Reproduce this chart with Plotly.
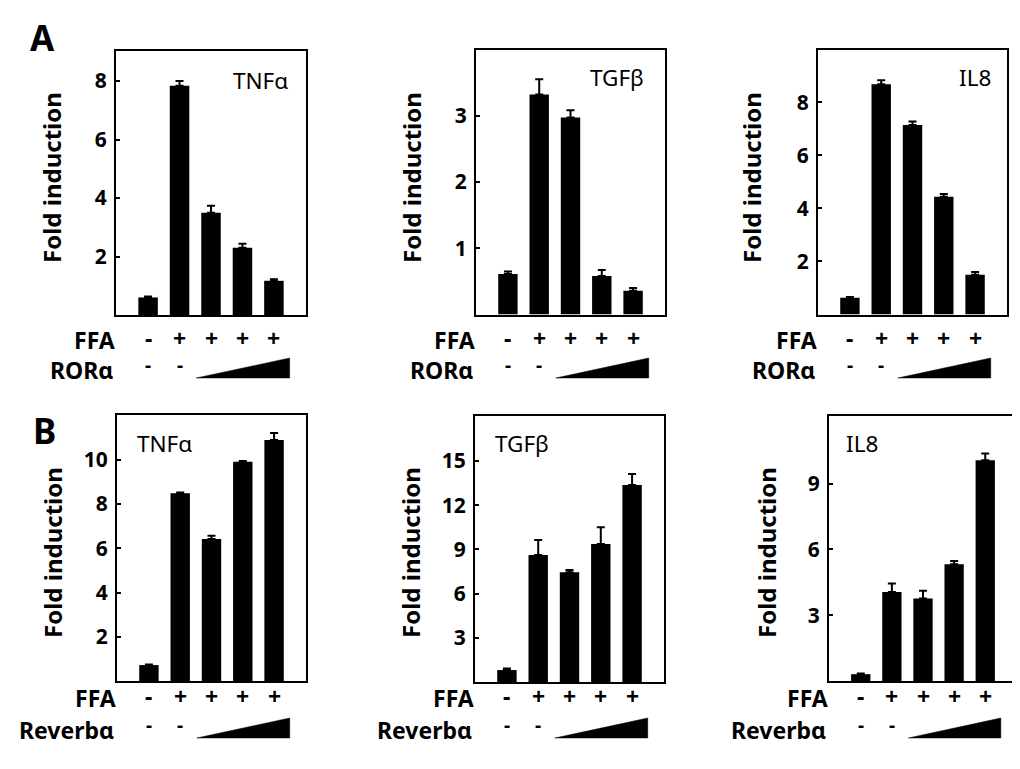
import plotly.graph_objects as go

# ---------------- data ----------------
categories = [0, 1, 2, 3, 4]
ffa_signs = ["-", "+", "+", "+", "+"]
dose_minus = ["-", "-"]          # first two lanes of the dose row

a_tnf = [0.60, 7.84, 3.50, 2.30, 1.17]
a_tnf_err = [0.03, 0.16, 0.24, 0.14, 0.05]
a_tgf = [0.61, 3.32, 2.97, 0.58, 0.36]
a_tgf_err = [0.04, 0.23, 0.11, 0.09, 0.04]
a_il8 = [0.63, 8.69, 7.15, 4.44, 1.50]
a_il8_err = [0.03, 0.15, 0.13, 0.11, 0.10]

b_tnf = [0.72, 8.49, 6.42, 9.92, 10.90]
b_tnf_err = [0.03, 0.04, 0.15, 0.03, 0.32]
b_tgf = [0.81, 8.61, 7.44, 9.36, 13.37]
b_tgf_err = [0.11, 1.02, 0.16, 1.14, 0.74]
b_il8 = [0.31, 4.06, 3.76, 5.32, 10.06]
b_il8_err = [0.03, 0.38, 0.35, 0.15, 0.31]

ticks_a_tnf = [2, 4, 6, 8]
ticks_a_tgf = [1, 2, 3]
ticks_a_il8 = [2, 4, 6, 8]
ticks_b_tnf = [2, 4, 6, 8, 10]
ticks_b_tgf = [3, 6, 9, 12, 15]
ticks_b_il8 = [3, 6, 9]

# ---------------- layout helpers ----------------
OFF = 8                      # page body margin
W, H = 1020 - OFF, 769 - OFF
FONT = "Noto Sans"


def px(x):
    return (x - OFF) / W


def py(y):
    return 1 - (y - OFF) / H


panels = [
    dict(gene="TNFα", v=a_tnf, e=a_tnf_err, t=ticks_a_tnf, ymax=9.03,
         frame=(116, 51, 306, 315), lab=(260, 80), ytit=(52, 178),
         dose="RORα", rows=(340, 370), wedge=(358, 378)),
    dict(gene="TGFβ", v=a_tgf, e=a_tgf_err, t=ticks_a_tgf, ymax=3.99,
         frame=(476, 50, 665, 314.5), lab=(617, 77), ytit=(412, 178),
         dose="RORα", rows=(340, 370), wedge=(358, 378)),
    dict(gene="IL8", v=a_il8, e=a_il8_err, t=ticks_a_il8, ymax=9.98,
         frame=(818, 50, 1007, 314.5), lab=(975, 77), ytit=(752, 178),
         dose="RORα", rows=(340, 370), wedge=(358, 378)),
    dict(gene="TNFα", v=b_tnf, e=b_tnf_err, t=ticks_b_tnf, ymax=12.03,
         frame=(117, 415, 306, 681), lab=(164, 443), ytit=(52, 553),
         dose="Reverbα", rows=(698, 730), wedge=(718, 738)),
    dict(gene="TGFβ", v=b_tgf, e=b_tgf_err, t=ticks_b_tgf, ymax=18.05,
         frame=(475, 416, 664, 682), lab=(522, 443), ytit=(410, 553),
         dose="Reverbα", rows=(698, 730), wedge=(718, 738)),
    dict(gene="IL8", v=b_il8, e=b_il8_err, t=ticks_b_il8, ymax=12.08,
         frame=(829, 416, 1017, 681), lab=(862, 443), ytit=(766, 553),
         dose="Reverbα", rows=(698, 730), wedge=(718, 738)),
]

fig = go.Figure()
annotations = []
shapes = []
layout = dict(
    width=W, height=H,
    margin=dict(l=0, r=0, t=0, b=0),
    paper_bgcolor="white", plot_bgcolor="white",
    showlegend=False,
)

for i, p in enumerate(panels):
    n = "" if i == 0 else str(i + 1)
    xa, ya = "x" + n, "y" + n
    l, t, r, b = p["frame"]
    fig.add_trace(go.Bar(
        x=categories, y=p["v"], xaxis=xa, yaxis=ya, width=0.62,
        marker=dict(color="black", line=dict(width=0)),
        error_y=dict(type="data", symmetric=False, array=p["e"],
                     arrayminus=[0] * len(p["e"]), color="black",
                     thickness=2, width=4),
    ))
    layout["xaxis" + n] = dict(
        domain=[px(l), px(r)], anchor=ya, range=[-1.02, 5.02],
        showline=True, mirror=True, linecolor="black", linewidth=2,
        showticklabels=False, ticks="", showgrid=False, zeroline=False,
    )
    layout["yaxis" + n] = dict(
        domain=[py(b), py(t)], anchor=xa, range=[0, p["ymax"]],
        showline=True, mirror=True, linecolor="black", linewidth=2,
        tickvals=p["t"], ticks="inside", ticklen=4, tickwidth=1.5,
        tickcolor="black", ticklabelstandoff=3,
        tickfont=dict(family=FONT, size=21, color="black", weight="bold"),
        showgrid=False, zeroline=False,
    )
    annotations.append(dict(
        text=p["gene"], x=px(p["lab"][0]), y=py(p["lab"][1]),
        xref="paper", yref="paper", showarrow=False,
        xanchor="center", yanchor="middle",
        font=dict(family=FONT, size=22.5, color="black"),
    ))
    annotations.append(dict(
        text="Fold induction", x=px(p["ytit"][0]), y=py(p["ytit"][1]),
        xref="paper", yref="paper", showarrow=False, textangle=-90,
        xanchor="center", yanchor="middle",
        font=dict(family=FONT, size=24, color="black", weight="bold"),
    ))
    r1, r2 = p["rows"]
    annotations.append(dict(
        text="FFA", x=px(l + 1), y=py(r1), xref="paper", yref="paper",
        showarrow=False, xanchor="right", yanchor="middle",
        font=dict(family=FONT, size=23, color="black", weight="bold"),
    ))
    annotations.append(dict(
        text=p["dose"], x=px(l - 1), y=py(r2), xref="paper", yref="paper",
        showarrow=False, xanchor="right", yanchor="middle",
        font=dict(family=FONT, size=23, color="black", weight="bold"),
    ))
    for c, s in zip(categories, ffa_signs):
        annotations.append(dict(
            text=s, x=c, y=py(r1 - 2), xref=xa, yref="paper", showarrow=False,
            xanchor="center", yanchor="middle",
            font=dict(family=FONT, size=23, color="black", weight="bold"),
        ))
    for c, s in zip(categories, dose_minus):
        annotations.append(dict(
            text=s, x=c, y=py(r2 - 5), xref=xa, yref="paper", showarrow=False,
            xanchor="center", yanchor="middle",
            font=dict(family=FONT, size=19, color="black", weight="bold"),
        ))
    wt, wb = p["wedge"]
    x0 = categories[2] - 0.47
    x1 = categories[4] + 0.50
    shapes.append(dict(
        type="path", xref=xa, yref="paper",
        path=f"M {x0},{py(wb)} L {x1},{py(wb)} L {x1},{py(wt)} Z",
        fillcolor="black", line=dict(color="black", width=0.5),
    ))

annotations.append(dict(text="A", x=px(42), y=py(37), xref="paper", yref="paper",
                        showarrow=False, xanchor="center", yanchor="middle",
                        font=dict(family=FONT, size=35, color="black", weight="bold")))
annotations.append(dict(text="B", x=px(44), y=py(430), xref="paper", yref="paper",
                        showarrow=False, xanchor="center", yanchor="middle",
                        font=dict(family=FONT, size=35, color="black", weight="bold")))

layout["annotations"] = annotations
layout["shapes"] = shapes
fig.update_layout(**layout)
fig.write_html("out.html")
